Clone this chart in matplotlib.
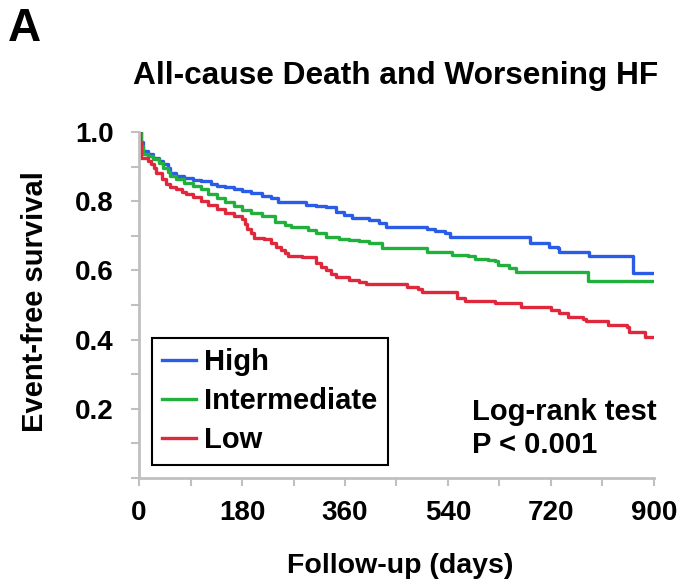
import matplotlib
matplotlib.use("Agg")
import matplotlib.pyplot as plt
from matplotlib.ticker import MultipleLocator, FixedLocator

plt.rcParams['font.family'] = ['Liberation Sans', 'DejaVu Sans']

# === Data ===
high_days = [0, 3, 7, 15, 25, 35, 42, 50, 55, 65, 78, 95, 108, 125, 136, 150, 166, 180,
             196, 215, 230, 243, 291, 310, 326, 344, 358, 372, 402, 420, 432, 504, 517,
             534, 543, 684, 716, 732, 734, 787, 864, 900]
high_surv = [1.0, 0.97, 0.945, 0.935, 0.925, 0.915, 0.908, 0.895, 0.881, 0.872, 0.867,
             0.862, 0.858, 0.85, 0.844, 0.84, 0.835, 0.83, 0.824, 0.815, 0.808, 0.798,
             0.789, 0.785, 0.783, 0.769, 0.76, 0.751, 0.746, 0.737, 0.725, 0.72, 0.714,
             0.708, 0.697, 0.679, 0.668, 0.665, 0.653, 0.642, 0.592, 0.592]

inter_days = [0, 3, 7, 15, 25, 35, 42, 50, 55, 65, 78, 95, 108, 120, 136, 150, 166, 180,
              196, 215, 238, 255, 266, 296, 310, 326, 350, 367, 385, 402, 425, 504, 547,
              575, 587, 610, 623, 628, 646, 658, 785, 900]
inter_surv = [1.0, 0.96, 0.936, 0.93, 0.922, 0.91, 0.896, 0.885, 0.873, 0.865, 0.853,
              0.845, 0.835, 0.822, 0.809, 0.798, 0.786, 0.776, 0.766, 0.757, 0.74, 0.732,
              0.725, 0.717, 0.708, 0.697, 0.69, 0.688, 0.684, 0.679, 0.665, 0.653, 0.644,
              0.642, 0.633, 0.63, 0.627, 0.616, 0.607, 0.595, 0.569, 0.569]

low_days = [0, 1, 3, 16, 21, 26, 30, 40, 48, 55, 65, 75, 83, 95, 108, 120, 136, 150, 166,
            180, 186, 189, 195, 201, 219, 231, 240, 249, 256, 261, 284, 309, 318, 326,
            335, 344, 367, 384, 397, 469, 487, 494, 556, 570, 623, 667, 720, 734, 749,
            776, 781, 820, 852, 857, 884, 900]
low_surv = [1.0, 0.968, 0.925, 0.916, 0.908, 0.895, 0.881, 0.865, 0.85, 0.842, 0.835,
            0.828, 0.821, 0.811, 0.801, 0.789, 0.777, 0.766, 0.757, 0.749, 0.735, 0.72,
            0.708, 0.694, 0.691, 0.679, 0.668, 0.659, 0.65, 0.642, 0.639, 0.621, 0.611,
            0.601, 0.591, 0.581, 0.572, 0.566, 0.56, 0.552, 0.546, 0.538, 0.52, 0.512,
            0.506, 0.494, 0.486, 0.477, 0.465, 0.459, 0.454, 0.442, 0.436, 0.422, 0.408,
            0.408]

x_ticks = [0, 180, 360, 540, 720, 900]
y_ticks = [0.2, 0.4, 0.6, 0.8, 1.0]

series = [
    ("High", high_days, high_surv, '#2a5ce6'),
    ("Intermediate", inter_days, inter_surv, '#22b03c'),
    ("Low", low_days, low_surv, '#e0283c'),
]

fig = plt.figure(figsize=(6.79, 5.86), dpi=100)
ax = fig.add_axes([139 / 679, 1 - 478 / 586, 515 / 679, 346 / 586])

for name, d, s, c in series:
    ax.step(d, s, where='post', color=c, linewidth=2.4, label=name)

ax.set_xlim(0, 900)
ax.set_ylim(0, 1.0)
ax.xaxis.set_major_locator(FixedLocator(x_ticks))
ax.xaxis.set_minor_locator(MultipleLocator(90))
ax.yaxis.set_major_locator(FixedLocator(y_ticks))
ax.yaxis.set_minor_locator(MultipleLocator(0.1))
ax.set_xticklabels([str(t) for t in x_ticks])
ax.set_yticklabels(['%.1f' % t for t in y_ticks])

for side in ['top', 'right']:
    ax.spines[side].set_visible(False)
for side in ['left', 'bottom']:
    ax.spines[side].set_color('#c0c0c0')
    ax.spines[side].set_linewidth(2)

ax.tick_params(which='both', direction='out', length=6, width=1.5, color='#c0c0c0')
ax.tick_params(axis='x', which='major', labelsize=20, pad=10)
ax.tick_params(axis='y', which='major', labelsize=20, pad=12)
for lab in ax.get_xticklabels() + ax.get_yticklabels():
    lab.set_fontweight('bold')

leg = ax.legend(loc='lower left', bbox_to_anchor=(0.025, 0.038), borderaxespad=0,
                prop={'size': 21, 'weight': 'bold'}, handlelength=1.15,
                handletextpad=0.28, labelspacing=0.38, fancybox=False,
                edgecolor='black', framealpha=1, borderpad=0.36)
leg.get_frame().set_linewidth(1.5)

ax.text(0.647, 0.232, "Log-rank test\nP < 0.001", transform=ax.transAxes,
        ha='left', va='top', fontsize=21, fontweight='bold', linespacing=1.22)

fig.text(8 / 679, 1 - 29 / 586, "A", fontsize=33, fontweight='bold', ha='left', va='center')
fig.text(396 / 679, 1 - 76 / 586, "All-cause Death and Worsening HF", fontsize=22.8,
         fontweight='bold', ha='center', va='center')
fig.text(35 / 679, 1 - 302 / 586, "Event-free survival", fontsize=21, fontweight='bold',
         rotation=90, ha='center', va='center')
fig.text(400 / 679, 1 - 566 / 586, "Follow-up (days)", fontsize=20.5, fontweight='bold',
         ha='center', va='center')

fig.savefig("out.png", dpi=100, facecolor='white')
